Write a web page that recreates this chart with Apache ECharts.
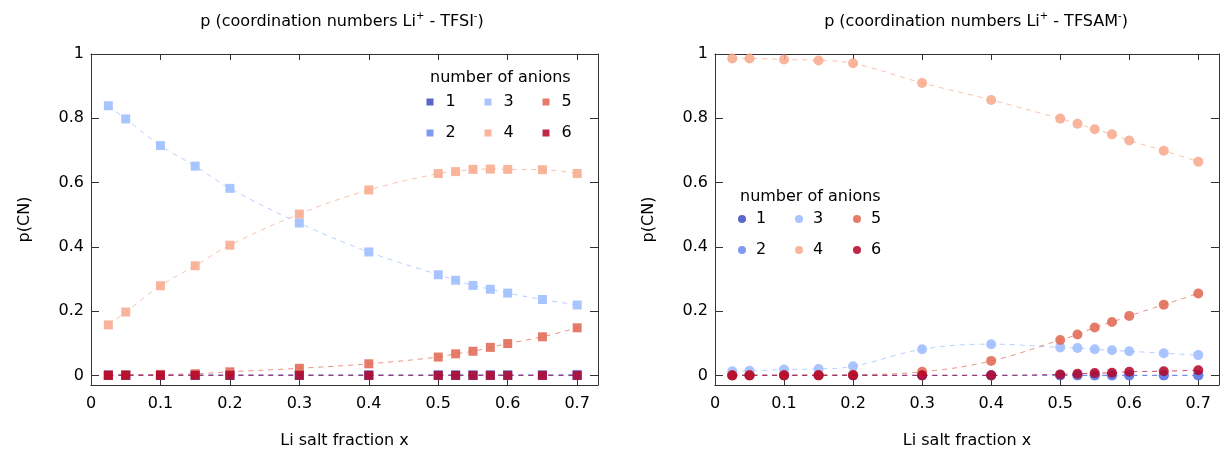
<!DOCTYPE html>
<html><head><meta charset="utf-8">
<script src="https://cdn.jsdelivr.net/npm/echarts@6/dist/echarts.min.js"></script>
<style>html,body{margin:0;padding:0;background:#fff}#c{width:1222px;height:454px}</style>
</head><body><div id="c"></div>
<script>
// ---- data ----
const liFraction = [0.025, 0.05, 0.1, 0.15, 0.2, 0.3, 0.4, 0.5, 0.525, 0.55, 0.575, 0.6, 0.65, 0.7];
const anionNames = ['1', '2', '3', '4', '5', '6'];
const xTickLabels = ['0', '0.1', '0.2', '0.3', '0.4', '0.5', '0.6', '0.7'];
const yTickLabels = ['0', '0.2', '0.4', '0.6', '0.8', '1'];

const tfsiCN1 = [0, 0, 0, 0, 0, 0, 0, 0, 0, 0, 0, 0, 0, 0];
const tfsiCN2 = [0.002, 0.002, 0.002, 0.002, 0.002, 0.002, 0.002, 0.002, 0.002, 0.002, 0.002, 0.002, 0.002, 0.003];
const tfsiCN3 = [0.839, 0.798, 0.715, 0.651, 0.582, 0.474, 0.384, 0.313, 0.296, 0.280, 0.268, 0.256, 0.236, 0.219];
const tfsiCN4 = [0.157, 0.197, 0.279, 0.341, 0.405, 0.502, 0.577, 0.628, 0.634, 0.641, 0.642, 0.641, 0.640, 0.628];
const tfsiCN5 = [0.001, 0.002, 0.003, 0.005, 0.011, 0.022, 0.036, 0.057, 0.067, 0.075, 0.087, 0.099, 0.120, 0.148];
const tfsiCN6 = [0, 0, 0, 0, 0, 0, 0, 0, 0, 0, 0, 0, 0, 0];

const tfsamCN1 = [0, 0, 0, 0, 0, 0, 0, 0, 0, 0, 0, 0, 0, 0];
const tfsamCN2 = [0.001, 0.001, 0.001, 0.001, 0.001, 0, 0, 0, 0, 0, 0, 0, 0, 0];
const tfsamCN3 = [0.013, 0.014, 0.018, 0.020, 0.028, 0.081, 0.097, 0.087, 0.085, 0.081, 0.078, 0.075, 0.069, 0.063];
const tfsamCN4 = [0.986, 0.986, 0.983, 0.980, 0.971, 0.910, 0.857, 0.799, 0.783, 0.766, 0.750, 0.731, 0.699, 0.665];
const tfsamCN5 = [0, 0, 0, 0.001, 0.002, 0.011, 0.045, 0.110, 0.127, 0.149, 0.166, 0.185, 0.220, 0.255];
const tfsamCN6 = [0, 0, 0, 0, 0, 0, 0, 0.003, 0.005, 0.007, 0.008, 0.011, 0.013, 0.016];

// ---- style ----
const FONT = 'DejaVu Sans';
const colors = ['#3b4cc0', '#6788ee', '#9abbff', '#f7a889', '#e0654f', '#b40426'];

const tfsiSets = [tfsiCN1, tfsiCN2, tfsiCN3, tfsiCN4, tfsiCN5, tfsiCN6];
const tfsamSets = [tfsamCN1, tfsamCN2, tfsamCN3, tfsamCN4, tfsamCN5, tfsamCN6];

function pairs(vals) { return liFraction.map((x, i) => [x, vals[i]]); }

function pick(v, list) { const s = list.find(t => Math.abs(parseFloat(t) - v) < 1e-6); return s === undefined ? '' : s; }
function xFmt(v) { return pick(v, xTickLabels); }
function yFmt(v) { return pick(v, yTickLabels); }

const axisLineStyle = { lineStyle: { color: '#333', width: 1 } };

function xAx(grid, pos, withLabels) {
  return {
    type: 'value', gridIndex: grid, position: pos, min: 0, max: 0.73, interval: 0.1,
    axisLine: { show: true, onZero: false, ...axisLineStyle },
    axisTick: { show: true, inside: true, length: 6, lineStyle: { color: '#333' } },
    axisLabel: { show: withLabels, formatter: xFmt, color: '#000', fontFamily: FONT, fontSize: 16, margin: 11 },
    splitLine: { show: false },
    name: withLabels ? 'Li salt fraction x' : '', nameLocation: 'middle', nameGap: 48,
    nameTextStyle: { color: '#000', fontFamily: FONT, fontSize: 16 }
  };
}
function yAx(grid, pos, withLabels) {
  return {
    type: 'value', gridIndex: grid, position: pos, min: -0.03, max: 1, splitNumber: 5,
    axisLine: { show: true, onZero: false, ...axisLineStyle },
    axisTick: { show: true, inside: true, length: 8, lineStyle: { color: '#333' } },
    axisLabel: { show: withLabels, formatter: yFmt, color: '#000', fontFamily: FONT, fontSize: 16, margin: 7 },
    splitLine: { show: false },
    name: withLabels ? 'p(CN)' : '', nameLocation: 'middle', nameGap: 58, nameRotate: 90,
    nameTextStyle: { color: '#000', fontFamily: FONT, fontSize: 16 }
  };
}

const series = [];
function addSeries(sets, gi, symbol, size) {
  sets.forEach((vals, k) => {
    series.push({
      type: 'line', name: anionNames[k], xAxisIndex: gi * 2, yAxisIndex: gi * 2,
      data: pairs(vals), smooth: 0.4, symbol: symbol, symbolSize: size, showSymbol: true,
      itemStyle: { color: colors[k], opacity: 0.85 },
      lineStyle: { color: colors[k], width: 1, type: [5, 5], opacity: 0.7 },
      emphasis: { disabled: true }, z: 2 + k
    });
  });
}
addSeries(tfsiSets, 0, 'rect', 9);
addSeries(tfsamSets, 1, 'circle', 10);

const legends = [];
function addLegends(cxs, cys, icon, size, extraPad) {
  anionNames.forEach((n, i) => {
    const col = Math.floor(i / 2), row = i % 2;
    legends.push({
      data: [n], icon: icon, itemWidth: size, itemHeight: size, padding: 0,
      left: cxs[col] - size / 2, top: cys[row] - 9,
      selectedMode: false,
      textStyle: { color: '#000', fontFamily: FONT, fontSize: 16, padding: [0, 0, 0, extraPad] }
    });
  });
}
addLegends([430, 488, 546], [103, 134], 'rect', 7, 7);
addLegends([742, 799, 857], [220, 251], 'circle', 8, 5);

function titleRich(anion) {
  return {
    text: '{a|p (coordination numbers Li}{s|+}{a| - ' + anion + '}{s|-}{a|)}',
    textStyle: {
      rich: {
        a: { fontFamily: FONT, fontSize: 16, fontWeight: 'normal', color: '#000', lineHeight: 22 },
        s: { fontFamily: FONT, fontSize: 10, fontWeight: 'normal', color: '#000', verticalAlign: 'top', lineHeight: 12 }
      }
    }
  };
}

const option = {
  animation: false,
  backgroundColor: '#fff',
  title: [
    { ...titleRich('TFSI'), left: 337, top: 6, textAlign: 'center' },
    { ...titleRich('TFSAM'), left: 971, top: 6, textAlign: 'center' },
    { text: 'number of anions', left: 430, top: 70, padding: 0, textStyle: { fontFamily: FONT, fontSize: 16, fontWeight: 'normal', color: '#000' } },
    { text: 'number of anions', left: 740, top: 189, padding: 0, textStyle: { fontFamily: FONT, fontSize: 16, fontWeight: 'normal', color: '#000' } }
  ],
  legend: legends,
  grid: [
    { left: 91, top: 54, width: 507, height: 337 },
    { left: 715, top: 54, width: 507, height: 337 }
  ],
  xAxis: [xAx(0, 'bottom', true), xAx(0, 'top', false), xAx(1, 'bottom', true), xAx(1, 'top', false)],
  yAxis: [yAx(0, 'left', true), yAx(0, 'right', false), yAx(1, 'left', true), yAx(1, 'right', false)],
  series: series
};

const chart = echarts.init(document.getElementById('c'), null, { renderer: 'canvas' });
chart.setOption(option);
</script>
</body></html>
